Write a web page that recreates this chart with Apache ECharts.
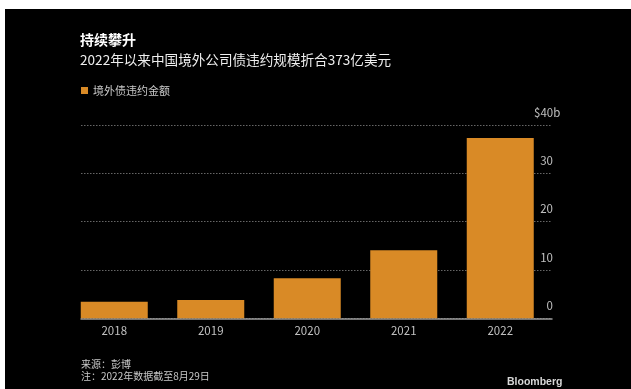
<!DOCTYPE html>
<html>
<head>
<meta charset="utf-8">
<script src="https://cdn.jsdelivr.net/npm/echarts@6/dist/echarts.min.js"></script>
<style>
  html, body { margin: 0; padding: 0; background: #fff; }
  #panel { position: absolute; left: 5px; top: 9px; width: 626px; height: 380px; background: #000; }
  #chart { position: absolute; left: 0; top: 0; width: 631px; height: 389px; }
</style>
</head>
<body>
<div id="panel"></div>
<div id="chart"></div>
<script>
// Offshore defaults by Chinese companies, billions of US dollars
const years = ['2018', '2019', '2020', '2021', '2022'];
const defaultAmounts = [3.4, 3.8, 8.3, 14.1, 37.3];
const seriesName = '境外债违约金额';
const yTicks = [0, 10, 20, 30, 40];

const titleText = '持续攀升';
const subtitleText = '2022年以来中国境外公司债违约规模折合373亿美元';
const footnoteText = '来源：彭博\n注：2022年数据截至8月29日';
const brandText = 'Bloomberg';

const CJK = '"Noto Sans CJK SC", "Noto Sans", sans-serif';
const ORANGE = '#d98a26';
const LABEL = '#c0c0c0';

const chart = echarts.init(document.getElementById('chart'), null, { renderer: 'canvas' });

const gridTop = 125;
const gridHeight = 193.3;

chart.setOption({
  backgroundColor: 'transparent',
  animation: false,
  textStyle: { fontFamily: CJK },
  title: [
    {
      text: titleText, left: 80, top: 32, padding: 0,
      textStyle: { color: '#fff', fontSize: 14, fontWeight: 'bold', lineHeight: 15, fontFamily: CJK }
    },
    {
      text: subtitleText, left: 80, top: 52.5, padding: 0,
      textStyle: { color: '#eee', fontSize: 13.6, fontWeight: 'normal', lineHeight: 15, fontFamily: CJK }
    },
    {
      text: footnoteText, left: 81, top: 358, padding: 0,
      textStyle: { color: '#c8c8c8', fontSize: 10, fontWeight: 'normal', lineHeight: 12, fontFamily: CJK }
    },
    {
      text: brandText, left: 507, top: 377, padding: 0,
      textStyle: { color: '#d8d8d8', fontSize: 10.5, fontWeight: 'bold', lineHeight: 11, fontFamily: '"Liberation Sans", Arial, sans-serif' }
    }
  ],
  legend: {
    data: [seriesName],
    left: 81, top: 85, padding: 0,
    icon: 'rect', itemWidth: 7, itemHeight: 7,
    textStyle: { color: '#c8c8c8', fontSize: 11, fontFamily: CJK }
  },
  grid: [
    // frame grid: gridlines, baseline and value labels
    { left: 81, top: gridTop, width: 471, height: gridHeight, containLabel: false },
    // bar grid
    { left: 66, top: gridTop, width: 482.5, height: gridHeight, containLabel: false }
  ],
  xAxis: [
    {
      gridIndex: 0, type: 'category', data: years,
      axisLine: { show: true, lineStyle: { color: '#9a9a9a', width: 1.5 } },
      axisTick: { show: false }, axisLabel: { show: false }, splitLine: { show: false }
    },
    {
      gridIndex: 1, type: 'category', data: years,
      axisLine: { show: false }, axisTick: { show: false },
      axisLabel: { color: LABEL, fontSize: 11.5, margin: 7, fontFamily: CJK }
    }
  ],
  yAxis: [
    {
      gridIndex: 0, type: 'value', position: 'right',
      min: yTicks[0], max: yTicks[yTicks.length - 1], interval: 10,
      axisLine: { show: false }, axisTick: { show: false },
      splitLine: { show: true, lineStyle: { color: '#666', type: [1.5, 1.5], width: 1 } },
      axisLabel: {
        inside: true, margin: -1, align: 'right', verticalAlign: 'bottom',
        padding: [0, 0, 7, 0],
        color: LABEL, fontSize: 11.5, fontFamily: CJK,
        formatter: function (v) {
          return v === yTicks[yTicks.length - 1] ? '{top|$' + v + 'b}' : String(v);
        },
        rich: {
          top: { width: 19, align: 'left', color: LABEL, fontSize: 11.5, fontFamily: CJK }
        }
      }
    },
    {
      gridIndex: 1, type: 'value', min: yTicks[0], max: yTicks[yTicks.length - 1],
      show: false, splitLine: { show: false }
    }
  ],
  series: [
    {
      name: seriesName, type: 'bar', xAxisIndex: 1, yAxisIndex: 1,
      data: defaultAmounts, barWidth: 67,
      itemStyle: { color: ORANGE }, z: 1
    }
  ]
});
</script>
</body>
</html>
